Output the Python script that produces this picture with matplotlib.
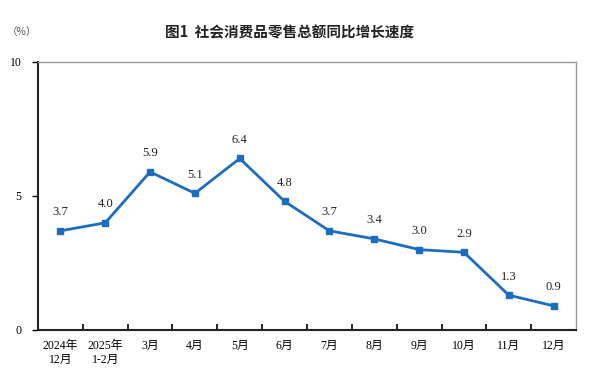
import matplotlib
matplotlib.use("Agg")
import matplotlib.pyplot as plt
from matplotlib.ticker import FixedLocator

categories = ["2024年\n12月", "2025年\n1-2月", "3月", "4月", "5月", "6月",
              "7月", "8月", "9月", "10月", "11月", "12月"]
values = [3.7, 4.0, 5.9, 5.1, 6.4, 4.8, 3.7, 3.4, 3.0, 2.9, 1.3, 0.9]
yticks = [0, 5, 10]
title = "图1  社会消费品零售总额同比增长速度"
unit = "（%）"

serif = ["Liberation Serif", "Noto Sans CJK SC"]
cjk = ["Noto Sans CJK SC", "DejaVu Sans"]
color = "#1c6dc0"

fig = plt.figure(figsize=(5.91, 3.87), dpi=100)
ax = fig.add_axes([38/591, 1-330/387, (576-38)/591, (330-62)/387])

x = list(range(len(values)))
ax.plot(x, values, color=color, lw=2, marker="s", ms=4.5, mfc=color, mec=color)
for xi, v in zip(x, values):
    ax.annotate(f"{v:.1f}", (xi, v), xytext=(0, 9), textcoords="offset points",
                ha="center", va="bottom", fontsize=9, family=serif, color="#222222")

ax.set_xlim(-0.5, len(values) - 0.5)
ax.set_ylim(0, 10)
ax.set_yticks(yticks)
ax.set_yticklabels([str(t) for t in yticks], family=serif, fontsize=8.5)
ax.tick_params(axis="y", direction="out", length=4, width=1, pad=8)

ax.set_xticks(x)
ax.set_xticklabels(categories, family=serif, fontsize=8.5, linespacing=1.25)
ax.tick_params(axis="x", which="major", length=0, pad=7)
ax.xaxis.set_minor_locator(FixedLocator([i + 0.5 for i in range(len(values) - 1)]))
ax.tick_params(axis="x", which="minor", direction="in", length=4, width=1.2)

for s in ["left", "bottom"]:
    ax.spines[s].set_color("#222222")
    ax.spines[s].set_linewidth(1.5)
for s in ["top", "right"]:
    ax.spines[s].set_color("#999999")
    ax.spines[s].set_linewidth(1)

fig.text(290/591, 1-32/387, title, ha="center", va="center", fontsize=10.5,
         family=cjk, fontweight="bold", color="#222222")
fig.text(22/591, 1-32/387, unit, ha="center", va="center", fontsize=7.5,
         family=cjk, color="#555555")

fig.savefig("out.png", dpi=100)
